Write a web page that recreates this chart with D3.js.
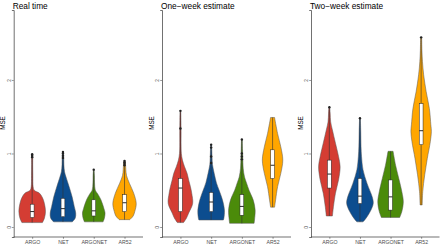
<!DOCTYPE html>
<html><head><meta charset="utf-8">
<script src="https://cdn.jsdelivr.net/npm/d3@7"></script>
<style>body{margin:0;background:#fff}svg{display:block;font-family:"Liberation Sans",Arial,sans-serif}</style>
</head><body><svg id="c" width="440" height="245"></svg>
<script>
const categories = ["ARGO","NET","ARGONET","AR52"];
const panelTitles = ["Real time","One\u2212week estimate","Two\u2212week estimate"];
const yTicks = [0,1,2];
const colors = ["#D43D33","#0C4D8F","#4B8B0A","#FFA600"];

// violin profiles: [MSE value, relative density]
const realTimeProfiles = [
  [[0.06,0.77],[0.12,0.92],[0.21,1.0],[0.32,0.92],[0.40,0.77],[0.46,0.55],[0.5,0.15],[0.55,0.07],[0.7,0.05],[0.85,0.04],[0.95,0.04],[0.99,0.02]],
  [[0.07,0.7],[0.12,0.92],[0.19,0.96],[0.28,0.85],[0.41,0.69],[0.55,0.46],[0.68,0.23],[0.75,0.12],[0.85,0.07],[0.95,0.06],[1.02,0.03]],
  [[0.07,0.7],[0.12,0.8],[0.19,0.85],[0.25,0.77],[0.37,0.54],[0.45,0.3],[0.5,0.12],[0.6,0.06],[0.7,0.05],[0.78,0.02]],
  [[0.10,0.4],[0.15,0.65],[0.21,0.77],[0.32,0.88],[0.46,0.69],[0.59,0.38],[0.7,0.15],[0.78,0.1],[0.84,0.08],[0.9,0.04]]
];
const oneWeekProfiles = [
  [[0.06,0.23],[0.12,0.45],[0.19,0.62],[0.32,0.92],[0.46,0.85],[0.55,0.75],[0.64,0.62],[0.73,0.5],[0.82,0.31],[0.91,0.15],[1.0,0.07],[1.1,0.05],[1.3,0.05],[1.45,0.04],[1.58,0.03]],
  [[0.095,0.92],[0.12,0.96],[0.23,1.0],[0.37,0.85],[0.5,0.6],[0.6,0.4],[0.73,0.23],[0.85,0.1],[0.95,0.07],[1.05,0.05],[1.12,0.03]],
  [[0.05,0.92],[0.095,0.95],[0.23,1.0],[0.37,0.85],[0.5,0.54],[0.6,0.35],[0.68,0.2],[0.8,0.1],[0.95,0.07],[1.05,0.05],[1.19,0.03]],
  [[0.27,0.15],[0.37,0.23],[0.55,0.38],[0.73,0.62],[0.91,0.77],[1.09,0.62],[1.27,0.38],[1.49,0.15]]
];
const twoWeekProfiles = [
  [[0.15,0.23],[0.28,0.31],[0.46,0.46],[0.64,0.69],[0.82,0.81],[0.96,0.69],[1.14,0.46],[1.32,0.23],[1.43,0.1],[1.55,0.06],[1.63,0.03]],
  [[0.07,0.23],[0.12,0.46],[0.21,0.77],[0.32,1.0],[0.41,0.92],[0.59,0.54],[0.78,0.23],[0.96,0.12],[1.1,0.08],[1.3,0.06],[1.48,0.03]],
  [[0.13,0.69],[0.21,0.85],[0.34,0.96],[0.48,0.85],[0.66,0.62],[0.84,0.38],[1.03,0.19]],
  [[0.30,0.08],[0.48,0.12],[0.71,0.27],[0.93,0.46],[1.16,0.69],[1.30,0.77],[1.39,0.73],[1.61,0.62],[1.84,0.38],[2.07,0.19],[2.25,0.1],[2.4,0.06],[2.58,0.04]]
];
// box stats: [min, q1, median, q3, max]
const realTimeBoxes = [[0.06,0.13,0.21,0.31,0.99],[0.07,0.14,0.25,0.39,1.02],[0.07,0.15,0.22,0.37,0.78],[0.10,0.21,0.33,0.44,0.90]];
const oneWeekBoxes  = [[0.06,0.21,0.53,0.66,1.58],[0.095,0.21,0.34,0.47,1.12],[0.05,0.16,0.28,0.44,1.19],[0.27,0.66,0.84,1.05,1.49]];
const twoWeekBoxes  = [[0.15,0.53,0.72,0.91,1.63],[0.07,0.32,0.42,0.66,1.48],[0.13,0.23,0.41,0.64,1.03],[0.30,1.12,1.31,1.68,2.58]];
const realTimeOutliers = [[0.95,0.97,0.99],[0.94,0.97,1.0,1.02],[0.78],[0.84,0.86,0.88,0.90]];
const oneWeekOutliers  = [[1.34,1.58],[0.87,0.96,1.08,1.12],[0.92,0.96,1.0,1.19],[]];
const twoWeekOutliers  = [[1.63],[1.48],[],[2.58]];

const panels = [
  {title:panelTitles[0], profiles:realTimeProfiles, boxes:realTimeBoxes, outliers:realTimeOutliers, x0:13.7, x1:143},
  {title:panelTitles[1], profiles:oneWeekProfiles, boxes:oneWeekBoxes, outliers:oneWeekOutliers, x0:162, x1:291},
  {title:panelTitles[2], profiles:twoWeekProfiles, boxes:twoWeekBoxes, outliers:twoWeekOutliers, x0:311, x1:439.5}
];

const svg = d3.select("#c");
const y = d3.scaleLinear().domain([-0.136, 2.952]).range([237, 10]);
const wScale = d3.scaleLinear().domain([0,1]).range([0,13.3]);
const axisColor = "#333";

panels.forEach(p => {
  const g = svg.append("g");
  const x = d3.scalePoint().domain(categories).range([p.x0, p.x1]).padding(0.6);

  // title
  g.append("text").attr("x", p.x0 - 1).attr("y", 8.5).attr("font-size", 8.3).attr("fill", "#000").text(p.title);
  // y label
  g.append("text").attr("transform", `translate(${p.x0 - 8.5},123) rotate(-90)`).attr("text-anchor","middle")
    .attr("font-size", 6.3).attr("fill","#000").text("MSE");

  // y axis
  const ya = g.append("g").attr("transform", `translate(${p.x0},0)`)
    .call(d3.axisLeft(y).tickValues(yTicks).tickSize(1.8).tickPadding(1.5).tickFormat(d3.format("d")));
  ya.select(".domain").attr("stroke", axisColor).attr("stroke-width", 0.7);
  ya.selectAll(".tick line").attr("stroke", axisColor).attr("stroke-width", 0.5);
  ya.selectAll(".tick text").attr("font-size", 4.8).attr("fill", "#4d4d4d").attr("font-family", null)
    .attr("x", -4.5).attr("dy", 0).attr("text-anchor","middle").attr("transform","rotate(-90)")
    .each(function(){ const t=d3.select(this); });
  ya.selectAll(".tick text").attr("transform", null).attr("x", null).attr("dy", null)
    .attr("text-anchor","middle").attr("transform","translate(-4.2,0) rotate(-90)").attr("dy","0.35em");

  // x axis
  const xa = g.append("g").attr("transform", `translate(0,237)`)
    .call(d3.axisBottom(x).tickSize(1.8).tickPadding(1.5));
  xa.select(".domain").attr("stroke", axisColor).attr("stroke-width", 0.7).attr("d", `M${p.x0},0H${p.x1}`);
  xa.selectAll(".tick line").attr("stroke", axisColor).attr("stroke-width", 0.5);
  xa.selectAll(".tick text").attr("font-size", 5.2).attr("fill", "#4d4d4d").attr("font-family", null);

  categories.forEach((c, i) => {
    const cx = x(c);
    const area = d3.area()
      .y(d => y(d[0]))
      .x0(d => cx - wScale(d[1]))
      .x1(d => cx + wScale(d[1]))
      .curve(d3.curveCatmullRom);
    g.append("path").datum(p.profiles[i]).attr("d", area)
      .attr("fill", colors[i]).attr("stroke", "#555").attr("stroke-width", 0.5);

    const b = p.boxes[i];
    // whisker line
    g.append("line").attr("x1", cx).attr("x2", cx).attr("y1", y(b[0])).attr("y2", y(b[4]))
      .attr("stroke", "#333").attr("stroke-width", 0.6);
    // outliers
    g.selectAll(null).data(p.outliers[i]).enter().append("circle")
      .attr("cx", cx).attr("cy", d => y(d)).attr("r", 1.2).attr("fill", "#222");
    // box
    const bw = 3.8;
    g.append("rect").attr("x", cx - bw/2).attr("width", bw)
      .attr("y", y(b[3])).attr("height", y(b[1]) - y(b[3]))
      .attr("fill", "#fff").attr("stroke", "#222").attr("stroke-width", 0.5);
    g.append("line").attr("x1", cx - bw/2).attr("x2", cx + bw/2).attr("y1", y(b[2])).attr("y2", y(b[2]))
      .attr("stroke", "#111").attr("stroke-width", 0.9);
  });
});
</script></body></html>
